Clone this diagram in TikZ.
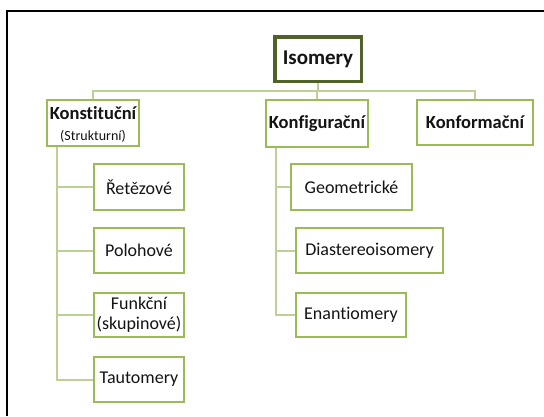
\documentclass[tikz,border=0pt]{standalone}
\usepackage{fontspec}
\setmainfont{Carlito}[Ligatures={NoCommon,NoRequired,NoContextual}]
\definecolor{boxline}{RGB}{155,187,89}
\definecolor{linkline}{RGB}{190,208,150}
\definecolor{rootline}{RGB}{79,98,40}
\definecolor{ink}{RGB}{20,20,20}
\tikzset{
  base/.style={draw=boxline, line width=1.5pt, fill=white, rectangle,
    inner sep=0pt, align=center, text=ink},
  rootbox/.style={base, draw=rootline, line width=3.5pt,
    font=\fontsize{21}{24}\selectfont\bfseries},
  mainbox/.style={base, font=\fontsize{18.5}{22}\selectfont\bfseries},
  leafbox/.style={base, font=\fontsize{18}{20}\selectfont},
  link/.style={draw=linkline, line width=2pt},
}
\begin{document}
\begin{tikzpicture}[x=1pt,y=-1pt]
\useasboundingbox (0,0) rectangle (544,416);
% outer frame
\draw[line width=2pt, black] (7,416) -- (7,11) -- (544,11);

% levels of the connector tree
\coordinate (bus) at (0,91);
\coordinate (lt) at (57,0);
\coordinate (rt) at (276,0);

% root
\node[rootbox, minimum width=86.5pt, minimum height=44.5pt] (iso) at (318,59) {Isomery};

% first level
\node[mainbox, minimum width=92pt, minimum height=46pt] (konst) at (93,123)
  {\raisebox{0pt}[16pt][6pt]{Konstituční}\\[-1pt]{\fontsize{14}{16}\mdseries\selectfont (Strukturní)}};
\node[mainbox, minimum width=102pt, minimum height=47pt] (konf) at (317,123.5) {Konfigurační};
\node[mainbox, minimum width=116pt, minimum height=45pt] (konform) at (475,122.5) {Konformační};

% constitutional isomers
\node[leafbox, minimum width=90pt, minimum height=46pt] (ret) at (139,187) {Řetězové};
\node[leafbox, minimum width=90pt, minimum height=45pt] (pol) at (139,250.5) {Polohové};
\node[leafbox, minimum width=90pt, minimum height=44pt] (fun) at (139,315) {Funkční\\(skupinové)};
\node[leafbox, minimum width=90pt, minimum height=45pt] (taut) at (139,379.5) {Tautomery};

% configurational isomers
\node[leafbox, minimum width=121pt, minimum height=46pt] (geo) at (351.5,187) {Geometrické};
\node[leafbox, minimum width=147pt, minimum height=45pt] (dia) at (369.5,250.5) {Diastereoisomery};
\node[leafbox, minimum width=110pt, minimum height=44pt] (ena) at (351,315) {Enantiomery};

% connectors
\draw[link] (iso.south) -- (iso.south |- bus);
\draw[link] (konst.north) -- (konst.north |- bus) -- (konform.north |- bus) -- (konform.north);
\draw[link] (konf.north) -- (konf.north |- bus);
\draw[link] (konst.south -| lt) -- (lt |- taut.west) -- (taut.west);
\draw[link] (lt |- ret.west) -- (ret.west);
\draw[link] (lt |- pol.west) -- (pol.west);
\draw[link] (lt |- fun.west) -- (fun.west);
\draw[link] (konf.south -| rt) -- (rt |- ena.west) -- (ena.west);
\draw[link] (rt |- geo.west) -- (geo.west);
\draw[link] (rt |- dia.west) -- (dia.west);
\end{tikzpicture}
\end{document}
